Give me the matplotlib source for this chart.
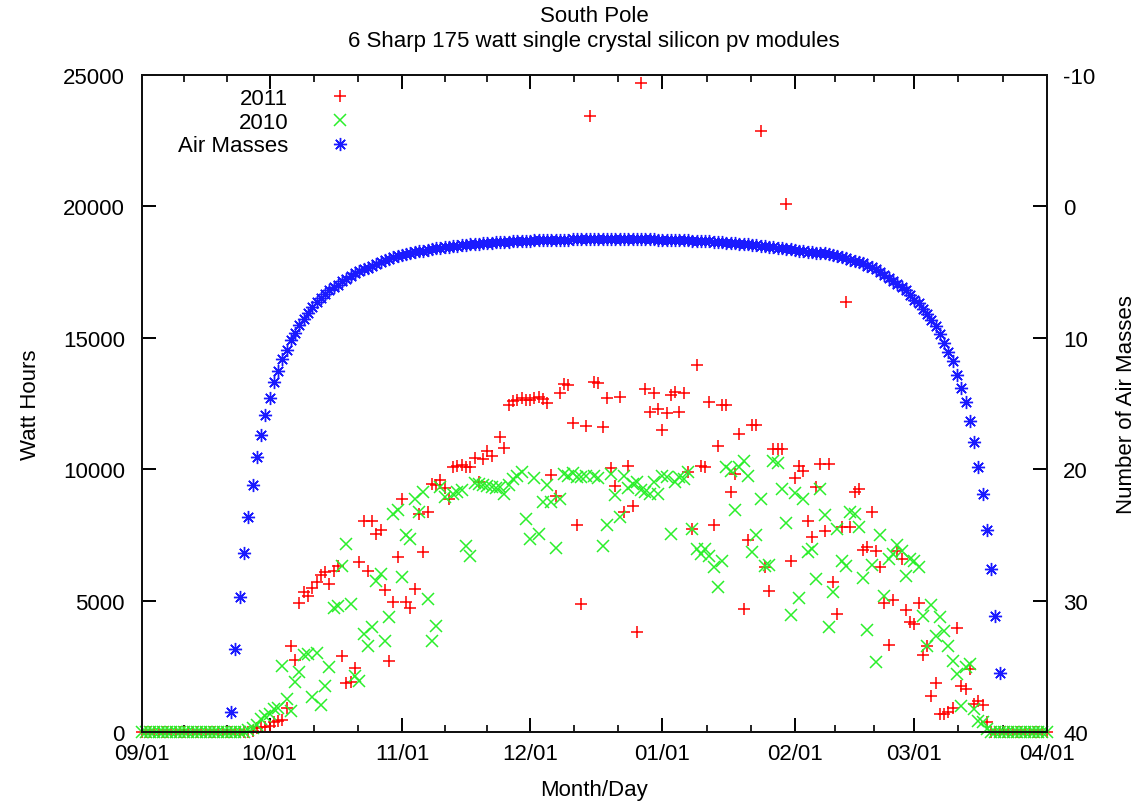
import matplotlib
matplotlib.use("Agg")
import matplotlib.pyplot as plt
import numpy as np

plt.rcParams['font.family'] = ['Liberation Sans', 'DejaVu Sans']

# ---------------- data ----------------
title_line1 = "South Pole"
title_line2 = "6 Sharp 175 watt single crystal silicon pv modules"
x_label = "Month/Day"
y_label = "Watt Hours"
y2_label = "Number of Air Masses"
series_names = ["2011", "2010", "Air Masses"]

# day index 0 = 09/01
month_days = [0, 30, 61, 91, 122, 153, 181, 212]
month_labels = ["09/01", "10/01", "11/01", "12/01", "01/01", "02/01", "03/01", "04/01"]

wh_ticks = [0, 5000, 10000, 15000, 20000, 25000]
am_ticks = [-10, 0, 10, 20, 30, 40]

nan = float("nan")

# 2011 watt hours, days 26..198 (zero before and after)
wh_2011_season = [
    30, 150, 180, 190, 240, 380, 420, 440, 900, 3290,
    2750, 4900, 5320, 5190, 5470, 5700, 5980, 6080, 5640, 6140,
    6330, 2910, 1870, 1890, 2430, 6460, 8010, 6140, 8010, 7540,
    7700, 5410, 2720, 4960, 6650, 8870, 4940, 4710, 5450, 8300,
    6840, 8390, 9440, 9410, 9600, 9280, 8870, 10100, 10140, 10170,
    10100, 10080, 10420, 9510, 10370, 10710, 10500, nan, 11220, 10800,
    12450, 12580, 12620, 12710, 12650, 12650, 12710, 12750, 12680, 12530,
    9790, 8980, 12910, 13250, 13210, 11770, 7890, 4870, 11660, 23450,
    13320, 13290, 11600, 12710, 10040, 9360, 12750, 8370, 10120, 8590,
    3800, 24710, 13060, 12170, 12910, 12300, 11510, 12150, 12830, 12940,
    12170, 12910, 9910, 7730, 13970, 10120, 10080, 12550, 7860, 10900,
    12450, 12450, 9130, 9820, 11350, 4680, 7320, 11690, 11690, 22870,
    6270, 5380, 10780, 10780, 10780, 20080, 6490, 9660, 10120, 9950,
    8010, 7410, 9320, 10210, 7630, 10210, 5700, 4490, 7800, 16370,
    7800, 9130, 9230, 6940, 7030, 8390, 6900, 6270, 4910, 3310,
    5040, 6900, 6590, 4660, 4200, 4110, 4910, 2930, 3290, 1380,
    1870, 690, 690, 770, 900, 3950, 1760, 1640, 2400, 1070,
    1190, 1030, 370,
]
wh_2011 = [0] * 26 + wh_2011_season + [0] * 14

# 2010 watt hours, days 25..198
wh_2010_season = [
    60, 150, 280, 500, 620, 700, 880, 900, 2530, 1260,
    800, 1900, 2290, 2930, 2970, 1320, 3010, 1030, 1740, 2460,
    4710, 4810, 6330, 7150, 4870, 2130, 1950, 3730, 3290, 4010,
    5760, 6020, 3480, 4370, 8300, 8430, 5890, 7480, 7350, 8870,
    8370, 9150, 5060, 3480, 4050, 9320, 8940, nan, 9060, 9150,
    9190, 7090, 6700, 9480, 9440, 9410, 9360, 9320, 9280, 9320,
    9060, 9380, 9610, 9740, 9890, 8110, 7350, 9660, 7540, 8770,
    9410, 8770, 7000, 8870, 9820, 9760, 9860, 9700, 9700, 9760,
    nan, 9760, 9660, 7090, 7880, 9820, 9020, 8180, 9760, 9280,
    9440, 9510, 9190, 9130, 9060, 9510, 9060, 9740, 9700, 7540,
    9530, 9700, 9630, 9890, 7730, 6970, 6780, 6970, 6710, 6270,
    5510, 6520, 10080, 9950, 8430, 10080, 10330, 9740, 6840, 7500,
    8850, 6310, 6360, 10330, 10240, 9230, 7940, 4460, 9100, 5090,
    8850, 6840, 6970, 5830, 9230, 8260, 3990, 5340, 7730, 6520,
    6310, 8370, 8300, 7800, 5850, 3900, 6360, 2650, 7480, 5190,
    6590, 6780, 7120, 6900, 5950, 6590, 6520, 6270, 4430, 3290,
    4830, 3670, 4370, 3860, 3290, 2720, 2210, 1000, 2460, 2590,
    880, 430, 370, 110,
]
wh_2010 = [0] * 25 + wh_2010_season + [0] * 14

# air masses, days 21..201
air_mass_first_day = 21
air_mass = [
    38.45, 33.7, 29.7, 26.4, 23.6, 21.2, 19.1, 17.4, 15.9, 14.6,
    13.4, 12.5, 11.65, 10.9, 10.2, 9.6, 9.05, 8.55, 8.1, 7.65,
    7.3, 6.95, 6.7, 6.4, 6.15, 5.95, 5.7, 5.5, 5.3, 5.1,
    4.95, 4.8, 4.65, 4.5, 4.35, 4.22, 4.1, 3.98, 3.88, 3.78,
    3.7, 3.62, 3.55, 3.48, 3.42, 3.36, 3.3, 3.25, 3.2, 3.15,
    3.11, 3.07, 3.03, 2.99, 2.96, 2.92, 2.89, 2.86, 2.83, 2.81,
    2.78, 2.76, 2.74, 2.72, 2.7, 2.68, 2.66, 2.64, 2.63, 2.61,
    2.6, 2.58, 2.57, 2.56, 2.55, 2.54, 2.53, 2.53, 2.52, 2.52,
    2.51, 2.51, 2.5, 2.5, 2.5, 2.5, 2.5, 2.5, 2.5, 2.5,
    2.5, 2.5, 2.5, 2.5, 2.5, 2.5, 2.5, 2.5, 2.51, 2.51,
    2.52, 2.52, 2.53, 2.54, 2.55, 2.56, 2.57, 2.58, 2.6, 2.61,
    2.63, 2.65, 2.67, 2.69, 2.71, 2.73, 2.76, 2.78, 2.81, 2.83,
    2.86, 2.89, 2.92, 2.95, 2.99, 3.02, 3.06, 3.1, 3.14, 3.18,
    3.22, 3.27, 3.32, 3.37, 3.42, 3.47, 3.5, 3.53, 3.55, 3.58,
    3.63, 3.72, 3.77, 3.88, 3.96, 4.05, 4.13, 4.22, 4.32, 4.5,
    4.61, 4.78, 5.0, 5.2, 5.45, 5.65, 5.88, 6.1, 6.4, 6.75,
    7.1, 7.35, 7.8, 8.2, 8.65, 9.13, 9.69, 10.37, 11.1, 11.8,
    12.8, 13.8, 14.9, 16.3, 17.9, 19.8, 21.9, 24.6, 27.6, 31.2,
    35.5,
]

days = np.arange(len(wh_2011))
am_days = np.arange(air_mass_first_day, air_mass_first_day + len(air_mass))

# ---------------- figure ----------------
W, H = 1140, 803
fig = plt.figure(figsize=(W / 100, H / 100), dpi=100)
L, R, T, B = 141.5, 1046.7, 76, 733
ax = fig.add_axes([L / W, 1 - B / H, (R - L) / W, (B - T) / H])
ax2 = ax.twinx()

FS = 16
ms = 9
ax.plot(days, wh_2011, linestyle="none", marker="+", ms=ms, mew=1.1,
        color="#ff0000", clip_on=False, label=series_names[0], zorder=3)
ax.plot(days, wh_2010, linestyle="none", marker="x", ms=ms * 0.95, mew=1.1,
        color="#2bef2b", clip_on=False, label=series_names[1], zorder=4)
ax2.plot(am_days, air_mass, linestyle="none", marker=(8, 2, 0), ms=ms * 1.05, mew=1.0,
         color="#1a1aff", clip_on=False, label=series_names[2], zorder=5)

ax.set_xlim(month_days[0], month_days[-1])
ax.set_ylim(0, 25000)
ax2.set_ylim(40, -10)

ax.set_xticks(month_days)
ax.set_xticklabels(month_labels)
minor = []
for a, b in zip(month_days[:-1], month_days[1:]):
    minor += [a + (b - a) / 3, a + 2 * (b - a) / 3]
ax.set_xticks(minor, minor=True)
ax.set_yticks(wh_ticks)
ax.set_yticklabels([str(v) for v in wh_ticks])
ax2.set_yticks(am_ticks)
ax2.set_yticklabels([str(v) for v in am_ticks])

for a in (ax, ax2):
    for s in a.spines.values():
        s.set_linewidth(1.4)
        s.set_color("#111111")

ax.tick_params(axis="x", which="major", direction="in", length=10, width=1.4,
               top=True, bottom=True, labelsize=FS, pad=8)
ax.tick_params(axis="x", which="minor", direction="in", length=5, width=1.2,
               top=True, bottom=True)
ax.tick_params(axis="y", which="major", direction="in", length=10, width=1.4,
               left=True, right=False, labelsize=FS, pad=12)
ax2.tick_params(axis="y", which="major", direction="in", length=10, width=1.4,
                right=True, left=False, labelsize=FS, pad=12)

# axis labels centred at reference positions
fig.text(0.5 * (L + R) / W, 1 - 791 / H, x_label, fontsize=FS,
         ha="center", va="center")
fig.text(30 / W, 1 - 0.5 * (T + B) / H, y_label, fontsize=FS,
         ha="center", va="center", rotation=90)
fig.text(1127 / W, 1 - 0.5 * (T + B) / H, y2_label, fontsize=FS,
         ha="center", va="center", rotation=90)

cx = (L + R) / 2 / W
fig.text(cx, 1 - 17 / H, title_line1, ha="center", va="center", fontsize=FS)
fig.text(cx, 1 - 41 / H, title_line2, ha="center", va="center", fontsize=FS)

h1, l1 = ax.get_legend_handles_labels()
h2, l2 = ax2.get_legend_handles_labels()
leg = ax2.legend(h1 + h2, l1 + l2, loc="upper left",
                 bbox_to_anchor=((178 - L) / (R - L), (B - 89) / (B - T)),
                 frameon=False, markerfirst=False, fontsize=FS,
                 handlelength=1.2, handletextpad=1.75, labelspacing=0.12,
                 borderpad=0, borderaxespad=0)
for col in leg._legend_handle_box.get_children():
    col.align = "right"

fig.savefig("out.png", dpi=100)
